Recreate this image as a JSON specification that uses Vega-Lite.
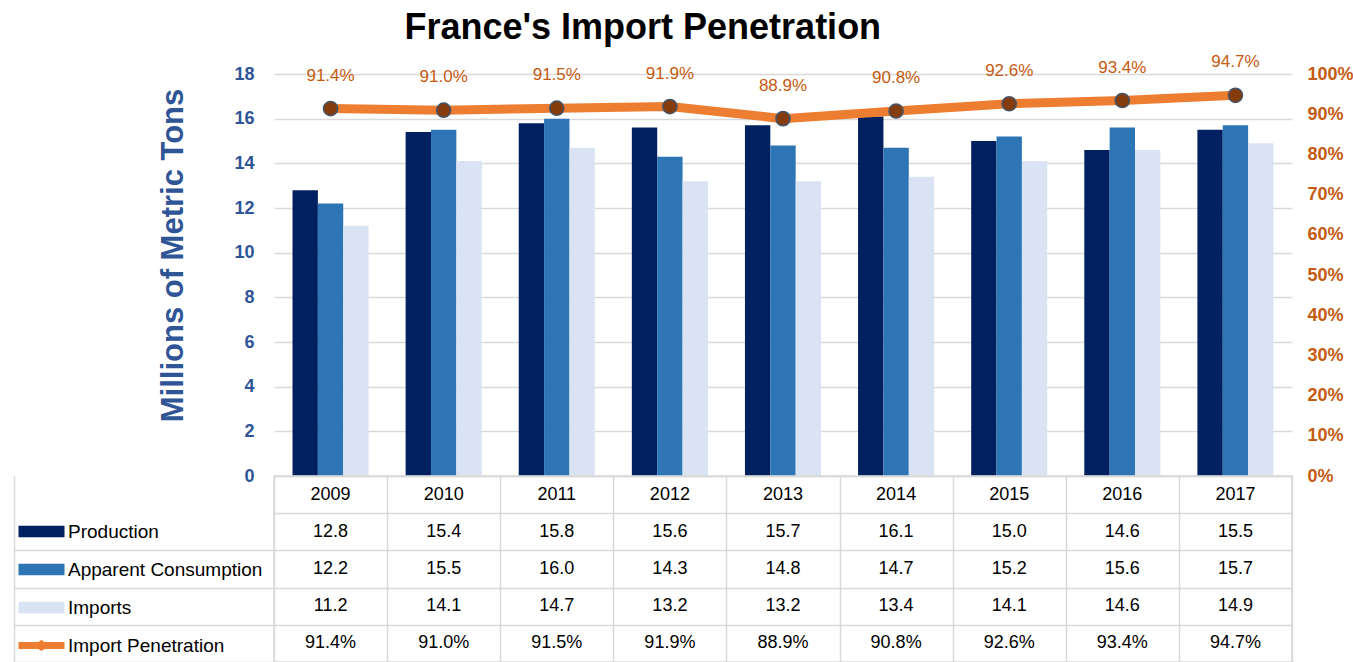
{
  "$schema": "https://vega.github.io/schema/vega-lite/v6.json",
  "padding": {"left": 12, "top": 10, "right": 6, "bottom": 0},
  "background": "white",
  "bounds": "flush",
  "title": {"text": "France's Import Penetration", "fontSize": 36, "font": "Liberation Sans", "fontWeight": "bold", "color": "#000000", "anchor": "middle", "frame": "bounds", "dx": -40, "offset": 6},
  "data": {"values": [
    {"year": "2009", "Production": 12.8, "Apparent Consumption": 12.2, "Imports": 11.2, "Import Penetration": 0.914},
    {"year": "2010", "Production": 15.4, "Apparent Consumption": 15.5, "Imports": 14.1, "Import Penetration": 0.910},
    {"year": "2011", "Production": 15.8, "Apparent Consumption": 16.0, "Imports": 14.7, "Import Penetration": 0.915},
    {"year": "2012", "Production": 15.6, "Apparent Consumption": 14.3, "Imports": 13.2, "Import Penetration": 0.919},
    {"year": "2013", "Production": 15.7, "Apparent Consumption": 14.8, "Imports": 13.2, "Import Penetration": 0.889},
    {"year": "2014", "Production": 16.1, "Apparent Consumption": 14.7, "Imports": 13.4, "Import Penetration": 0.908},
    {"year": "2015", "Production": 15.0, "Apparent Consumption": 15.2, "Imports": 14.1, "Import Penetration": 0.926},
    {"year": "2016", "Production": 14.6, "Apparent Consumption": 15.6, "Imports": 14.6, "Import Penetration": 0.934},
    {"year": "2017", "Production": 15.5, "Apparent Consumption": 15.7, "Imports": 14.9, "Import Penetration": 0.947}
  ]},
  "spacing": 0,
  "vconcat": [
    {
      "width": 1018,
      "height": 402,
      "view": {"stroke": null},
      "layer": [
        {
          "transform": [{"fold": ["Production", "Apparent Consumption", "Imports"], "as": ["series", "value"]}],
          "mark": {"type": "bar"},
          "encoding": {
            "x": {"field": "year", "type": "nominal", "scale": {"paddingInner": 0, "paddingOuter": 0}, "axis": null},
            "xOffset": {"field": "series", "type": "nominal", "sort": ["Production", "Apparent Consumption", "Imports"], "scale": {"paddingInner": 0, "paddingOuter": 0.73}},
            "y": {"field": "value", "type": "quantitative", "scale": {"domain": [0, 18]},
              "axis": {"values": [0, 2, 4, 6, 8, 10, 12, 14, 16, 18], "title": "Millions of Metric Tons", "titleFontSize": 31, "titleFontWeight": "bold", "titleColor": "#2F5597", "titlePadding": 44, "titleY": 181,
                "labelFontSize": 18, "labelFontWeight": "bold", "labelColor": "#2F5597", "labelPadding": 20, "ticks": false, "domain": false, "grid": true, "gridColor": "#D9D9D9", "gridWidth": 1.5}},
            "color": {"field": "series", "type": "nominal",
              "scale": {"domain": ["Production", "Apparent Consumption", "Imports", "Import Penetration"], "range": ["#002060", "#2E75B6", "#DAE3F3", "#ED7D31"]},
              "legend": {"orient": "none", "legendX": -244, "legendY": 446, "padding": 0, "title": null, "direction": "vertical", "labelFontSize": 19, "labelColor": "#000000", "labelFont": "Liberation Sans", "labelLimit": 400, "rowPadding": 16, "symbolSize": 529, "symbolStrokeWidth": 0, "labelOffset": 15,
                "symbolType": "M-2,-0.5H2V0.5H-2Z",
                "encode": {"symbols": {"update": {
                  "shape": {"signal": "datum.value === 'Import Penetration' ? 'M-2,-0.3H2V0.3H-2Z M0.32,0 A0.32,0.45 0 1,1 -0.32,0 A0.32,0.45 0 1,1 0.32,0Z' : 'M-2,-0.5H2V0.5H-2Z'"},
                  "fill": {"signal": "datum.value === 'Production' ? '#002060' : datum.value === 'Apparent Consumption' ? '#2E75B6' : datum.value === 'Imports' ? '#DAE3F3' : '#ED7D31'"},
                  "strokeWidth": {"value": 0},
                  "opacity": {"value": 1}
                }}}}
            }
          }
        },
        {
          "layer": [
            {
              "mark": {"type": "line", "strokeWidth": 9},
              "encoding": {
                "x": {"field": "year", "type": "nominal", "scale": {"paddingInner": 0, "paddingOuter": 0}, "axis": null},
                "y": {"field": "Import Penetration", "type": "quantitative", "scale": {"domain": [0, 1]},
                  "axis": {"orient": "right", "format": ".0%", "values": [0, 0.1, 0.2, 0.3, 0.4, 0.5, 0.6, 0.7, 0.8, 0.9, 1], "title": null, "labelFontSize": 18, "labelFontWeight": "bold", "labelColor": "#C55A11", "labelPadding": 15, "ticks": false, "domain": false, "grid": false}},
                "color": {"datum": "Import Penetration"}
              }
            },
            {
              "mark": {"type": "point", "filled": true, "size": 200, "fill": "#843C0C", "stroke": "#44546A", "strokeWidth": 1.5, "opacity": 1},
              "encoding": {
                "x": {"field": "year", "type": "nominal"},
                "y": {"field": "Import Penetration", "type": "quantitative"}
              }
            },
            {
              "mark": {"type": "text", "dy": -33, "fontSize": 17, "color": "#C55A11", "font": "Liberation Sans"},
              "encoding": {
                "x": {"field": "year", "type": "nominal"},
                "y": {"field": "Import Penetration", "type": "quantitative"},
                "text": {"field": "Import Penetration", "format": ".1%"}
              }
            }
          ]
        }
      ],
      "resolve": {"scale": {"y": "independent"}}
    },
    {
      "width": 1018,
      "height": 186,
      "view": {"stroke": "#D9D9D9", "strokeWidth": 1.5},
      "encoding": {
        "x": {"field": "year", "type": "nominal", "scale": {"paddingInner": 0, "paddingOuter": 0},
          "axis": {"grid": true, "tickBand": "extent", "gridColor": "#D9D9D9", "gridWidth": 1.5, "labels": false, "ticks": false, "domain": false, "title": null}}
      },
      "layer": [
        {
          "transform": [{"fold": ["Production", "Apparent Consumption", "Imports"], "as": ["series", "value"]}],
          "mark": {"type": "text", "fontSize": 18, "color": "#000000", "font": "Liberation Sans"},
          "encoding": {
            "y": {"field": "series", "type": "nominal", "scale": {"domain": ["header", "Production", "Apparent Consumption", "Imports", "Import Penetration"], "paddingInner": 0, "paddingOuter": 0},
              "axis": {"orient": "left", "grid": true, "tickBand": "extent", "gridColor": "#D9D9D9", "gridWidth": 1.5, "labels": false, "title": null,
                "ticks": true, "tickSize": 260, "tickColor": "#D9D9D9", "tickWidth": 1.5,
                "tickOpacity": {"condition": {"test": "datum.extra || datum.value === 'header'", "value": 0}, "value": 1},
                "domain": false}},
            "text": {"field": "value", "type": "quantitative", "format": ".1f"}
          }
        },
        {
          "mark": {"type": "text", "fontSize": 18, "color": "#000000", "font": "Liberation Sans"},
          "encoding": {
            "y": {"datum": "Import Penetration", "type": "nominal",
              "axis": {"orient": "left", "offset": 260, "grid": false, "labels": false, "ticks": false, "title": null, "domain": true, "domainColor": "#D9D9D9", "domainWidth": 1.5}},
            "text": {"field": "Import Penetration", "type": "quantitative", "format": ".1%"}
          }
        },
        {
          "mark": {"type": "text", "fontSize": 18, "color": "#000000", "font": "Liberation Sans"},
          "encoding": {
            "y": {"datum": "header", "type": "nominal", "axis": null},
            "text": {"field": "year", "type": "nominal"}
          }
        }
      ],
      "resolve": {"axis": {"y": "independent"}}
    }
  ]
}
